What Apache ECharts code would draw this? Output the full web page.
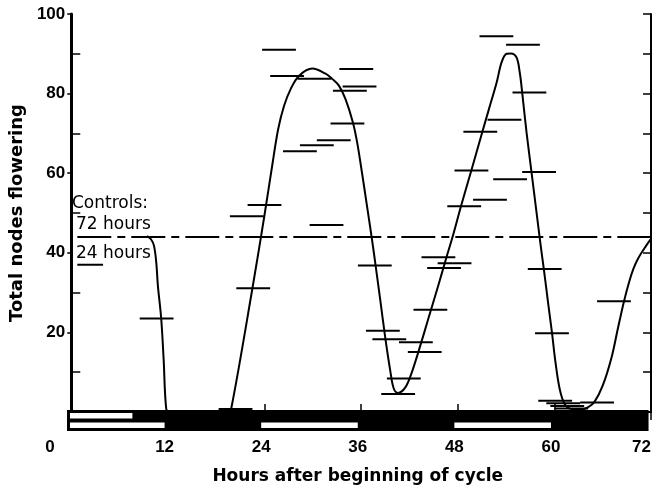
<!DOCTYPE html>
<html>
<head>
<meta charset="utf-8">
<script src="https://cdn.jsdelivr.net/npm/echarts@6/dist/echarts.min.js"></script>
<style>html,body{margin:0;padding:0;background:#fff}#c{width:654px;height:489px}</style>
</head>
<body>
<div id="c"></div>
<script>
// ---- data ----
const xTicks = [0, 12, 24, 36, 48, 60, 72];
const yTickLabels = [20, 40, 60, 80, 100];
const bottomTicks = [24, 36, 48, 60];
const leftMinorTicks = [10, 30, 50, 70, 90];

// fitted curve (hours, total nodes flowering)
const curveHours = [9.4, 9.9, 10.27, 10.55, 10.76, 11.17, 11.47, 11.8, 12.2, 19.5, 19.9, 22.5, 24.0, 25.0, 25.7, 26.44, 27.26, 28.3, 29.94, 31.59, 32.4, 33.24, 34.06, 34.97, 35.5, 36.1, 36.74, 37.36, 37.77, 38.39, 39.0, 39.63, 40.05, 40.58, 41.49, 42.23, 43.14, 44.37, 45.6, 46.6, 47.47, 48.4, 49.73, 50.97, 51.8, 52.83, 53.45, 54.06, 54.6, 55.3, 55.7, 56.0, 56.54, 57.16, 57.78, 58.3, 58.73, 59.22, 59.72, 60.13, 60.66, 61.28, 62.1, 63.3, 64.2, 65.0, 66.0, 67.05, 67.88, 68.62, 69.32, 69.8, 70.35, 71.4, 72];
const curveValues = [44.2, 43.4, 41.8, 37.7, 31.7, 23.5, 13.3, 0.7, 0, 0, 1.2, 31.1, 49.5, 62.5, 71.1, 77, 81.2, 84.5, 86.3, 85.0, 83.7, 82.0, 78.6, 72.8, 67.8, 60.2, 51.6, 43.2, 37.2, 27.9, 18.6, 10.2, 5.9, 4.8, 6.2, 9.6, 15.3, 23.6, 31.9, 38.9, 44.8, 51.7, 61.0, 69.8, 75.6, 82.8, 87.9, 90, 90.1, 89.1, 85.3, 80.3, 70.3, 60.3, 50.2, 41.8, 35.3, 27.4, 19.6, 12.6, 5.8, 2.0, 0.75, 0.6, 1.2, 2.6, 6.6, 13.3, 20.9, 27.6, 32.9, 35.9, 38.4, 41.8, 43.5];

// observations (centre hour of sampling window, value)
const obsHours = [10.6, 20.4, 21.8, 22.6, 24.0, 25.8, 26.8, 30.2, 28.4, 30.5, 32.6, 31.7, 35.4, 35.8, 34.6, 34.3, 37.7, 38.7, 39.5, 42.8, 43.9, 41.3, 40.6, 44.6, 45.6, 47.6, 46.3, 48.8, 49.7, 50.8, 52.0, 52.8, 56.1, 56.9, 53.8, 58.1, 54.5, 58.8, 59.7, 67.4, 60.1, 61.1, 65.3, 61.6, 62.1];
const obsValues = [23.5, 0.75, 49.2, 31.1, 52.0, 91.0, 84.4, 83.7, 65.5, 67.0, 68.3, 47.0, 86.2, 81.8, 80.7, 72.5, 36.8, 20.4, 18.3, 17.5, 15.1, 8.4, 4.5, 25.7, 38.9, 37.4, 36.2, 51.7, 60.7, 70.4, 53.3, 94.4, 92.3, 80.3, 73.4, 60.3, 58.5, 35.9, 19.8, 27.8, 2.8, 2.2, 2.4, 1.5, 0.9];
const OBS_HALF_WINDOW = 2.1; // hours

// controls
const control72 = 44;
const control24 = 37;
const controlStart = 0.75;
const control24End = 3.95;

// light (white) periods in the two schedule strips: [row, start, end]; row 1 = upper, row 0 = lower
const lightPeriods = [[1, 0, 8], [0, 0, 12], [0, 24, 36], [0, 48, 60]];

const FONT = "'Liberation Sans', Arial, Helvetica, sans-serif";
const FONT2 = "'DejaVu Sans', Verdana, sans-serif";

const chart = echarts.init(document.getElementById('c'), null, {renderer: 'canvas'});

function renderDash(params, api) {
  const a = api.coord([api.value(0) - OBS_HALF_WINDOW, api.value(1)]);
  const b = api.coord([api.value(0) + OBS_HALF_WINDOW, api.value(1)]);
  return {type: 'line', shape: {x1: a[0], y1: a[1], x2: b[0], y2: b[1]}, style: {stroke: '#000', lineWidth: 2}};
}
function renderLight(params, api) {
  const row = api.value(0), s = api.value(1), e = api.value(2);
  const p0 = api.coord([s, row + 1]);
  const p1 = api.coord([e, row]);
  const x0 = p0[0] + (s === 0 ? 2 : 0);
  return {type: 'rect', shape: {x: x0, y: p0[1] + 2, width: p1[0] - x0, height: p1[1] - p0[1] - 4}, style: {fill: '#fff'}};
}

const option = {
  animation: false,
  backgroundColor: '#fff',
  grid: [
    {left: 68, right: 3, top: 14, height: 398, show: false},
    {left: 68, right: 3, top: 411, height: 19, show: true, backgroundColor: '#000', borderColor: '#000', borderWidth: 2}
  ],
  xAxis: [
    {gridIndex: 0, type: 'value', position: 'top', min: 0, max: 72, interval: 12,
     axisLine: {show: true, lineStyle: {color: '#000', width: 2}},
     axisTick: {show: true, inside: true, length: 8, lineStyle: {color: '#000', width: 1.5}},
     axisLabel: {show: false}, splitLine: {show: false}},
    {gridIndex: 0, type: 'value', position: 'bottom', min: 0, max: 72, interval: 12,
     axisLine: {show: false},
     axisTick: {show: true, inside: true, length: 8, customValues: bottomTicks, lineStyle: {color: '#000', width: 1.5}},
     axisLabel: {show: false}, splitLine: {show: false}},
    {gridIndex: 1, type: 'value', position: 'bottom', min: 0, max: 72, interval: 12,
     axisLine: {show: false}, axisTick: {show: false}, splitLine: {show: false},
     axisLabel: {show: true, margin: 9, customValues: xTicks,
       formatter: function (v) { if (v === 0) return '{l|0}'; if (v === 72) return '{r|72}'; return '{n|' + v + '}'; },
       rich: {
         l: {fontFamily: FONT, fontSize: 17, fontWeight: 'bold', color: '#000', padding: [0, 36, 0, 0]},
         r: {fontFamily: FONT, fontSize: 17, fontWeight: 'bold', color: '#000', padding: [0, 12, 0, 0]},
         n: {fontFamily: FONT, fontSize: 17, fontWeight: 'bold', color: '#000'}
       }},
     name: 'Hours after beginning of cycle', nameLocation: 'middle', nameGap: 38,
     nameTextStyle: {fontFamily: FONT2, fontSize: 17, fontWeight: 'bold', color: '#000'}}
  ],
  yAxis: [
    {gridIndex: 0, type: 'value', position: 'left', min: 0, max: 100, interval: 20,
     axisLine: {show: true, lineStyle: {color: '#000', width: 3}},
     axisTick: {show: true, length: 4, customValues: yTickLabels, lineStyle: {color: '#000', width: 1.5}},
     axisLabel: {show: true, margin: 6, customValues: yTickLabels, fontFamily: FONT, fontSize: 17, fontWeight: 'bold', color: '#000', padding: [4, 0, 0, 0]},
     splitLine: {show: false},
     name: 'Total nodes flowering', nameLocation: 'middle', nameGap: 27,
     nameTextStyle: {fontFamily: FONT2, fontSize: 18, fontWeight: 'bold', color: '#000'}},
    {gridIndex: 0, type: 'value', position: 'left', min: 0, max: 100, interval: 10,
     axisLine: {show: false},
     axisTick: {show: true, inside: true, length: 9, customValues: leftMinorTicks, lineStyle: {color: '#000', width: 1.5}},
     axisLabel: {show: false}, splitLine: {show: false}},
    {gridIndex: 0, type: 'value', position: 'right', min: 0, max: 100, interval: 10,
     axisLine: {show: true, lineStyle: {color: '#000', width: 2}},
     axisTick: {show: true, inside: true, length: 8, lineStyle: {color: '#000', width: 1.5}},
     axisLabel: {show: false}, splitLine: {show: false}},
    {gridIndex: 1, type: 'value', min: 0, max: 2, show: false, splitLine: {show: false}}
  ],
  series: [
    {type: 'custom', xAxisIndex: 2, yAxisIndex: 3, renderItem: renderLight,
     data: lightPeriods, silent: true},
    {type: 'line', name: 'control72', xAxisIndex: 0, yAxisIndex: 0, showSymbol: false, symbol: 'none',
     data: [[controlStart, control72], [72, control72]],
     lineStyle: {color: '#000', width: 2, type: [34, 6, 8, 6]}},
    {type: 'line', name: 'control24', xAxisIndex: 0, yAxisIndex: 0, showSymbol: false, symbol: 'none',
     data: [[controlStart, control24], [control24End, control24]],
     lineStyle: {color: '#000', width: 2}},
    {type: 'line', name: 'curve', xAxisIndex: 0, yAxisIndex: 0, showSymbol: false, symbol: 'none', smooth: 0.35,
     data: curveHours.map((h, i) => [h, curveValues[i]]),
     lineStyle: {color: '#000', width: 2}},
    {type: 'custom', name: 'obs', xAxisIndex: 0, yAxisIndex: 0, renderItem: renderDash,
     data: obsHours.map((h, i) => [h, obsValues[i]])}
  ],
  graphic: [
    {type: 'text', left: 72, top: 195, style: {text: 'Controls:', font: '17px ' + FONT2, fill: '#000'}},
    {type: 'text', left: 76, top: 216, style: {text: '72 hours', font: '17px ' + FONT2, fill: '#000'}},
    {type: 'text', left: 76, top: 245, style: {text: '24 hours', font: '17px ' + FONT2, fill: '#000'}}
  ]
};
chart.setOption(option);
</script>
</body>
</html>
